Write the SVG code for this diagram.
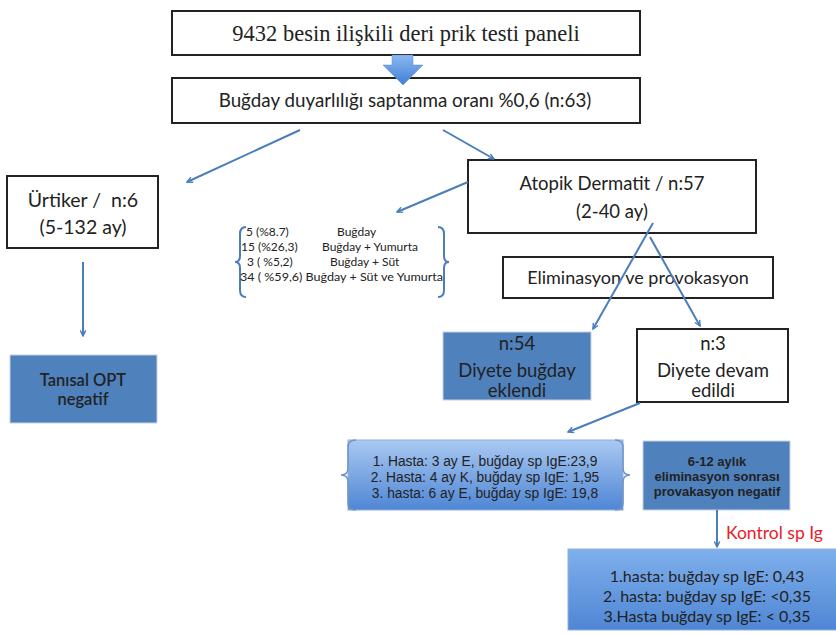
<svg xmlns="http://www.w3.org/2000/svg" width="836" height="635" viewBox="0 0 836 635">
<defs>
<style>
.box{fill:#fff;stroke:#222;stroke-width:2}
.blue{fill:#4f81bd;stroke:#c8d2e0;stroke-width:1}
.t{font-family:Lato,"Open Sans","Liberation Sans",sans-serif;fill:#222;text-anchor:middle}
.ls{font-family:"Liberation Sans",Arial,sans-serif;fill:#222;text-anchor:middle}
.conn{stroke:#4a7ebb;stroke-width:2;fill:none}
.brace{stroke:#4a7ebb;stroke-width:2;fill:none}
.sm{font-family:Lato,"Liberation Sans",sans-serif;font-size:12px;fill:#222}
</style>
<marker id="ah" viewBox="0 0 10 10" refX="9" refY="5" markerWidth="7" markerHeight="7" orient="auto-start-reverse" markerUnits="userSpaceOnUse">
<path d="M1,1 L9,5 L1,9" fill="none" stroke="#4a7ebb" stroke-width="2"/>
</marker>
<linearGradient id="g1" x1="0" y1="0" x2="0" y2="1">
<stop offset="0" stop-color="#a9c9f2"/>
<stop offset="1" stop-color="#4f86d4"/>
</linearGradient>
<linearGradient id="g2" x1="0" y1="0" x2="0" y2="1">
<stop offset="0" stop-color="#7fb0ec"/>
<stop offset="1" stop-color="#4f86d4"/>
</linearGradient>
<linearGradient id="ga" x1="0" y1="0" x2="0" y2="1">
<stop offset="0" stop-color="#8ab8f0"/>
<stop offset="1" stop-color="#3f7fd6"/>
</linearGradient>
</defs>

<g id="n1">
<rect class="box" x="172" y="11" width="468" height="44"/>
<text x="406" y="41" font-family="'Liberation Serif',serif" font-size="22.5" fill="#222" text-anchor="middle">9432 besin ilişkili deri prik testi paneli</text>
</g>

<g id="n2">
<rect class="box" x="172" y="78" width="468" height="45"/>
<text class="t" x="405" y="107" font-size="18.8">Buğday duyarlılığı saptanma oranı %0,6 (n:63)</text>
</g>

<g id="n3">
<rect class="box" x="7" y="176" width="151" height="72"/>
<text class="t" x="83" y="207" font-size="19.5" xml:space="preserve">Ürtiker /  n:6</text>
<text class="t" x="83" y="234" font-size="19.5">(5-132 ay)</text>
</g>

<g id="n4">
<rect class="box" x="468" y="160" width="288" height="73"/>
<text class="t" x="612" y="190" font-size="18.5">Atopik Dermatit / n:57</text>
<text class="t" x="612" y="218" font-size="18.5">(2-40 ay)</text>
</g>

<g id="n5">
<path class="brace" d="M246,227 Q240,227 240,234 L240,256 Q240,262 235,262 Q240,262 240,268 L240,290 Q240,297 246,297"/>
<path class="brace" d="M438,227 Q444,227 444,234 L444,256 Q444,262 449,262 Q444,262 444,268 L444,290 Q444,297 438,297"/>
<text class="sm" x="246" y="236">5 (%8.7)</text>
<text class="sm" x="337" y="236">Buğday</text>
<text class="sm" x="241" y="251">15 (%26,3)</text>
<text class="sm" x="322" y="251">Buğday + Yumurta</text>
<text class="sm" x="247" y="266">3 ( %5,2)</text>
<text class="sm" x="330" y="266">Buğday + Süt</text>
<text class="sm" x="240" y="281" textLength="203" lengthAdjust="spacingAndGlyphs">34 ( %59,6) Buğday + Süt ve Yumurta</text>
</g>

<g id="n6">
<rect class="box" x="503" y="257" width="270" height="41"/>
<text class="t" x="638" y="284" font-size="18">Eliminasyon ve provokasyon</text>
</g>

<g id="n7">
<rect class="blue" x="10" y="355" width="147" height="68"/>
<text class="t" x="83" y="386" font-size="16.5" font-weight="600">Tanısal OPT</text>
<text class="t" x="83" y="405" font-size="16.5" font-weight="600">negatif</text>
</g>

<g id="n8">
<rect class="blue" x="443" y="332" width="148" height="68"/>
<text class="t" x="517" y="350" font-size="18.5">n:54</text>
<text class="t" x="517" y="377" font-size="18.5">Diyete buğday</text>
<text class="t" x="517" y="397" font-size="18.5">eklendi</text>
</g>

<g id="n9">
<rect class="box" x="637" y="329" width="151" height="73"/>
<text class="t" x="713" y="350" font-size="18.5">n:3</text>
<text class="t" x="713" y="377" font-size="18.5">Diyete devam</text>
<text class="t" x="713" y="397" font-size="18.5">edildi</text>
</g>

<g id="n10">
<rect x="348" y="440" width="275" height="70" fill="url(#g1)" stroke="#8fb0dc" stroke-width="1"/>
<path d="M356,440 Q348,440 348,447 L348,468 Q348,475 341,475 Q348,475 348,482 L348,503 Q348,510 356,510" fill="none" stroke="#6f93c4" stroke-width="1.5"/>
<path d="M615,440 Q623,440 623,447 L623,468 Q623,475 630,475 Q623,475 623,482 L623,503 Q623,510 615,510" fill="none" stroke="#6f93c4" stroke-width="1.5"/>
<text class="ls" x="485" y="466" font-size="13.8">1. Hasta: 3 ay E, buğday sp IgE:23,9</text>
<text class="ls" x="485" y="482" font-size="13.8">2. Hasta: 4 ay K, buğday sp IgE: 1,95</text>
<text class="ls" x="485" y="498" font-size="13.8">3. hasta: 6 ay E, buğday sp IgE: 19,8</text>
</g>

<g id="n11">
<rect class="blue" x="643" y="441" width="147" height="69"/>
<text class="ls" x="717" y="466" font-size="13" font-weight="bold">6-12 aylık</text>
<text class="ls" x="717" y="481" font-size="13" font-weight="bold">eliminasyon sonrası</text>
<text class="ls" x="717" y="496" font-size="13" font-weight="bold">provakasyon negatif</text>
</g>

<text x="726" y="539" font-family="Lato,'Liberation Sans',sans-serif" font-size="17.5" fill="#e8202a">Kontrol sp Ig</text>

<g id="n12">
<rect x="568" y="549" width="270" height="81" fill="url(#g2)" stroke="#8fb0dc" stroke-width="1"/>
<text class="t" x="707" y="582" font-size="16">1.hasta: buğday sp IgE: 0,43</text>
<text class="t" x="707" y="602" font-size="16">2. hasta: buğday sp IgE: &lt;0,35</text>
<text class="t" x="707" y="622" font-size="16">3.Hasta buğday sp IgE: &lt; 0,35</text>
</g>

<g id="connectors">
<line class="conn" x1="300" y1="130" x2="187" y2="182" marker-end="url(#ah)"/>
<line class="conn" x1="443" y1="130" x2="494" y2="159" marker-end="url(#ah)"/>
<line class="conn" x1="468" y1="182" x2="397" y2="212" marker-end="url(#ah)"/>
<line class="conn" x1="83" y1="262" x2="83" y2="336" marker-end="url(#ah)"/>
<line class="conn" x1="653" y1="223" x2="593" y2="329" marker-end="url(#ah)"/>
<line class="conn" x1="650" y1="237" x2="700" y2="326" marker-end="url(#ah)"/>
<line class="conn" x1="640" y1="403" x2="568" y2="432" marker-end="url(#ah)"/>
<line class="conn" x1="717" y1="510" x2="717" y2="547" marker-end="url(#ah)"/>
</g>

<g id="blockarrow">
<path d="M392,55 L413,55 L413,65 L423,65 L403,85 L383,65 L392,65 Z" fill="url(#ga)" stroke="#5b8fd6" stroke-width="0.5"/>
</g>
</svg>
